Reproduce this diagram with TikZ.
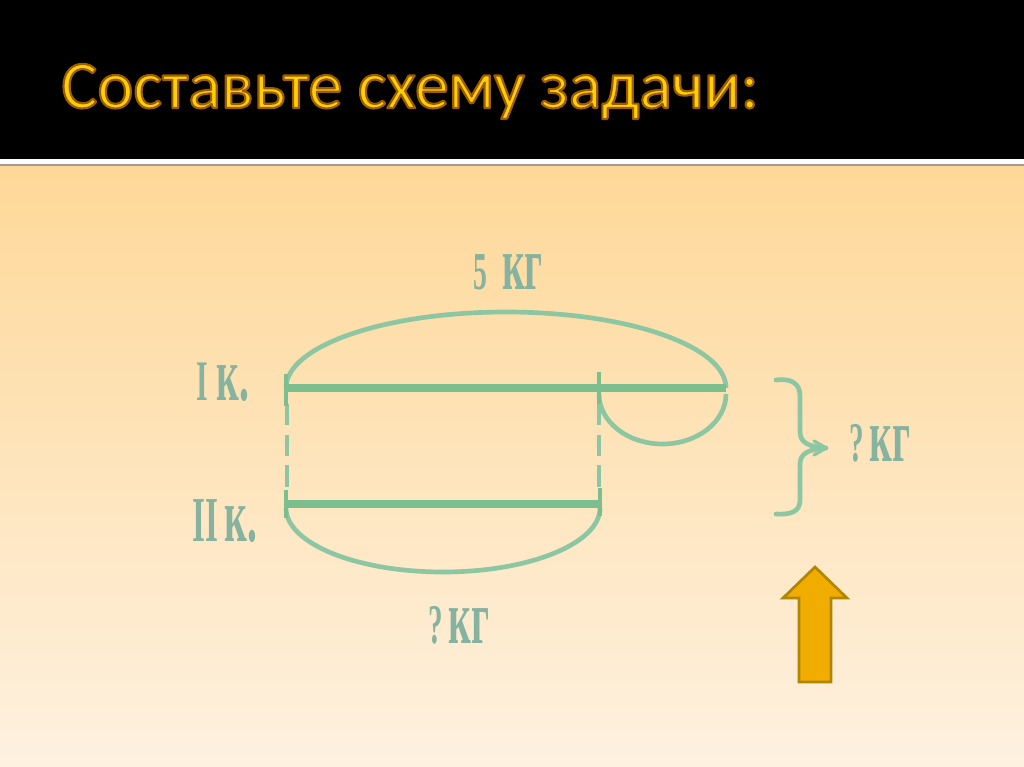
\documentclass[tikz,border=0pt]{standalone}
\usepackage{fontspec}
\usepackage{graphicx}
\setmainfont{Liberation Serif}
\newfontfamily\titlefont{Carlito}
\newfontfamily\lblfont{Liberation Serif}
\definecolor{bgtop}{HTML}{FED898}
\definecolor{bgbot}{HTML}{FEF1E0}
\definecolor{titlec}{HTML}{FFD000}
\definecolor{linec}{HTML}{7CBE8E}
\definecolor{arcc}{HTML}{8CC6A2}
\definecolor{lblc}{HTML}{86B2A0}
\definecolor{arrfill}{HTML}{F1AC00}
\definecolor{arredge}{HTML}{B08500}
\definecolor{sepc}{HTML}{A89888}
\newcommand{\sqtx}[1]{\scalebox{0.52}[1]{#1}}
\newcommand{\bigtx}[1]{{\fontsize{57}{57}\selectfont #1}}
\newcommand{\midtx}[1]{{\fontsize{42}{42}\selectfont #1}}
\newcommand{\glowtext}[1]{\special{pdf:literal direct 0.62 0.36 0 RG 1.6 w 1 j 2 Tr}#1\special{pdf:literal direct 0 Tr}}
\tikzset{
  seg/.style={draw=linec, line width=5.5pt},
  tick/.style={draw=linec, line width=3pt},
  arcline/.style={draw=arcc, line width=3.5pt},
  dashline/.style={draw=arcc, line width=2.6pt, dash pattern=on 16pt off 7pt},
  lbl/.style={text=lblc, font=\lblfont\bfseries, inner sep=0pt},
  bracel/.style={draw=arcc, line width=3.5pt, line join=round, line cap=round},
  blockarrow/.style={fill=arrfill, draw=arredge, line width=2pt, line join=miter},
  titlestyle/.style={anchor=base west, inner sep=0pt, font=\titlefont\fontsize{51}{51}\selectfont}
}
\begin{document}
\begin{tikzpicture}[x=0.75pt,y=-0.75pt]
\useasboundingbox (0,0) rectangle (1024,767);
% background
\shade[top color=bgtop, bottom color=bgbot] (0,165) rectangle (1024,767);
\fill[black] (0,0) rectangle (1024,159);
\fill[white] (0,159) rectangle (1024,164);
\fill[sepc] (0,164) rectangle (1024,166);
% title
\node[titlestyle, text=titlec] (title) at (61,108) {\glowtext{Составьте схему задачи:}};
% coordinates
\coordinate (a1) at (286,388);
\coordinate (a2) at (599,388);
\coordinate (a3) at (726,388);
\coordinate (b1) at (286,504);
\coordinate (b2) at (600,504);
% arcs
\draw[arcline] (a1) arc[start angle=180, end angle=360, x radius=220, y radius=76];
\draw[arcline] (a2) ++(0,6) arc[start angle=180, end angle=0, x radius=63.5, y radius=50];
\draw[arcline] (b1) ++(0,4) arc[start angle=180, end angle=0, x radius=157, y radius=64];
% dashed links
\draw[dashline] (287,404) -- (287,492);
\draw[dashline] (599,404) -- (599,492);
% segments
\draw[seg] (a1) -- (a3);
\draw[seg] (b1) -- (b2);
\draw[tick] (286,374) -- (286,406);
\draw[tick] (599,372) -- (599,404);
\draw[tick] (286,490) -- (286,518);
\draw[tick] (600,488) -- (600,516);
% labels
\node[lbl] (l5) at (508,272) {\sqtx{{\fontsize{40}{40}\selectfont 5}\hspace{22pt}\bigtx{кг}}};
\node[lbl] (l1) at (223,382) {\sqtx{{\fontsize{43}{43}\selectfont I}\hspace{12pt}\bigtx{к.}}};
\node[lbl] (l2) at (225,521) {\sqtx{{\fontsize{48}{48}\selectfont II}\hspace{8pt}\bigtx{к.}}};
\node[lbl] (lq1) at (459,625) {\sqtx{\midtx{?}\hspace{8pt}\bigtx{кг}}};
\node[lbl] (lq2) at (880,443) {\sqtx{\midtx{?}\hspace{8pt}\bigtx{кг}}};
% brace
\coordinate (bt) at (776,380);
\coordinate (btip) at (826,448);
\coordinate (bb) at (776,514);
\draw[bracel] (bt) .. controls (792,378) and (800,384) .. (800,396) -- (800,432)
  .. controls (800,442) and (808,447) .. (btip)
  .. controls (808,449) and (800,454) .. (800,464) -- (800,500)
  .. controls (800,511) and (792,515) .. (bb);
\draw[bracel, line width=2.5pt] (814,441) -- (btip) -- (814,455);
% block arrow
\draw[blockarrow] (815,567) -- (847,598) -- (831,598) -- (831,682) -- (799,682) -- (799,598) -- (783,598) -- cycle;
\end{tikzpicture}
\end{document}
